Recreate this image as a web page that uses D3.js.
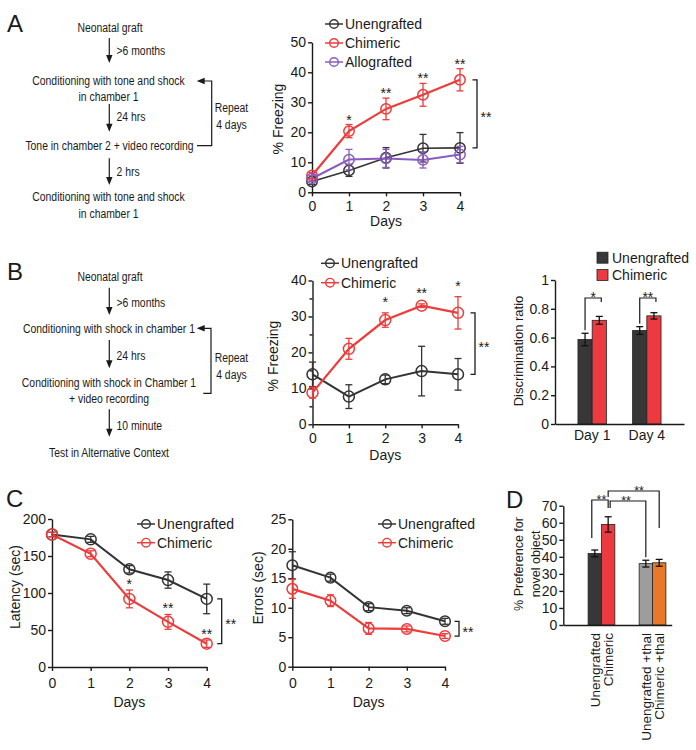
<!DOCTYPE html>
<html><head><meta charset="utf-8">
<script src="https://cdn.jsdelivr.net/npm/d3@7"></script>
<style>
body{margin:0;background:#fff}
svg{display:block}
</style></head><body>
<svg id="fig" width="696" height="750"></svg>
<script>
// ---------------- DATA ----------------
const days = [0, 1, 2, 3, 4];

// Panel A: % freezing (tone)
const aUnengrafted = [3.6, 7.3, 11.5, 14.7, 14.8];
const aUnengraftedErr = [1.0, 2.0, 3.4, 4.6, 5.1];
const aChimeric = [5.6, 20.4, 27.8, 32.5, 37.5];
const aChimericErr = [1.0, 2.2, 3.6, 3.8, 3.7];
const aAllografted = [4.6, 10.9, 11.3, 10.8, 12.6];
const aAllograftedErr = [1.0, 3.4, 3.0, 2.7, 2.7];
const aStars = ["", "*", "**", "**", "**"];
const aYTicks = [0, 10, 20, 30, 40, 50];

// Panel B: % freezing (context)
const bUnengrafted = [13.9, 7.7, 12.5, 14.8, 13.9];
const bUnengraftedErr = [3.4, 3.3, 1.2, 6.9, 4.4];
const bChimeric = [8.8, 21.0, 29.0, 33.0, 31.0];
const bChimericErr = [1.5, 2.9, 2.0, 0.5, 4.5];
const bStars = ["", "", "*", "**", "*"];
const bYTicks = [0, 10, 20, 30, 40];
const bYMinorTicks = [5, 15, 25, 35];

// Panel B: discrimination ratio
const discDays = ["Day 1", "Day 4"];
const discUnengrafted = [0.587, 0.649];
const discUnengraftedErr = [0.043, 0.027];
const discChimeric = [0.72, 0.751];
const discChimericErr = [0.027, 0.022];
const discStars = ["*", "**"];
const discYTicks = [0, 0.2, 0.4, 0.6, 0.8, 1];

// Panel C: latency
const latUnengrafted = [179, 172.5, 132, 117.5, 92];
const latUnengraftedErr = [3, 4, 5, 11, 20];
const latChimeric = [179, 153, 92, 61, 31.5];
const latChimericErr = [3, 4, 12, 10, 5];
const latStars = ["", "", "*", "**", "**"];
const latYTicks = [0, 50, 100, 150, 200];

// Panel C: errors
const errUnengrafted = [17.2, 15.1, 10.1, 9.5, 7.7];
const errUnengraftedErr = [2.3, 0.6, 0.6, 0.5, 0.5];
const errChimeric = [13.2, 11.2, 6.5, 6.4, 5.2];
const errChimericErr = [1.6, 1.0, 1.0, 0.5, 0.4];
const errStars = ["", "", "", "", ""];
const errYTicks = [0, 5, 10, 15, 20, 25];

// Panel D: novel object preference
const novelGroups = ["Unengrafted", "Chimeric", "Unengrafted +thal", "Chimeric +thal"];
const novelValues = [42, 59, 36, 36.5];
const novelErr = [2, 4.5, 2, 2];
const novelYTicks = [0, 10, 20, 30, 40, 50, 60, 70];

// ---------------- STYLE ----------------
const FONT = '"Liberation Sans", Arial, Helvetica, sans-serif';
const INK = "#1a1a1a";
const COL = {
  black: "#333333", red: "#ee3b3b", purple: "#8a5cc0",
  barBlack: "#373737", barRed: "#ec3a40", gray: "#9d9d9d", orange: "#e8782a"
};

const svg = d3.select("#fig");

function styleAxis(sel) {
  sel.attr("font-family", FONT).attr("font-size", 14);
  sel.selectAll("path.domain").attr("stroke", INK).attr("stroke-width", 1.4);
  sel.selectAll(".tick line").attr("stroke", INK).attr("stroke-width", 1.4);
  sel.selectAll(".tick text").attr("fill", INK);
}

function txt(g, x, y, s, opt = {}) {
  return g.append("text").attr("x", x).attr("y", y)
    .attr("font-family", FONT).attr("font-size", opt.size || 14)
    .attr("fill", INK).attr("text-anchor", opt.anchor || "middle")
    .attr("dy", opt.dy == null ? "0.35em" : opt.dy).text(s);
}

// condensed text (Helvetica Condensed look) via horizontal scaling
function ntxt(g, x, y, s, anchor) {
  return g.append("text").attr("transform", `translate(${x},${y}) scale(0.77,1)`)
    .attr("font-family", FONT).attr("font-size", 13.5).attr("fill", INK)
    .attr("text-anchor", anchor || "middle").attr("dy", "0.35em").text(s);
}

function ylabel(g, x, y, s, size) {
  g.append("text").attr("transform", `translate(${x},${y}) rotate(-90)`)
    .attr("font-family", FONT).attr("font-size", size || 14).attr("fill", INK)
    .attr("text-anchor", "middle").attr("dy", "0.35em").text(s);
}

// ---------------- LINE CHART ----------------
function lineChart(L, series, yTicks, stars) {
  const g = svg.append("g");
  const x = d3.scaleLinear().domain([0, 4]).range([L.x0, L.x1]);
  const y = d3.scaleLinear().domain([0, L.yMax]).range([L.y0, L.y1]);

  g.append("g").attr("transform", `translate(0,${L.y0})`)
    .call(d3.axisBottom(x).tickValues(days).tickFormat(d3.format("d"))
      .tickSize(4).tickPadding(L.xPad).tickSizeOuter(0)).call(styleAxis);
  g.append("g").attr("transform", `translate(${L.x0},0)`)
    .call(d3.axisLeft(y).tickValues(yTicks).tickSize(4).tickPadding(2).tickSizeOuter(0))
    .call(styleAxis);
  if (L.minor) {
    g.append("g").attr("transform", `translate(${L.x0},0)`)
      .call(d3.axisLeft(y).tickValues(L.minor).tickSize(3).tickFormat("").tickSizeOuter(0))
      .call(styleAxis).select("path.domain").remove();
  }

  const line = d3.line().x((d, i) => x(days[i])).y(d => y(d));
  series.forEach(s => {
    g.append("path").attr("d", line(s.values)).attr("fill", "none")
      .attr("stroke", s.color).attr("stroke-width", s.width);
  });
  series.forEach(s => {
    s.values.forEach((v, i) => {
      const cx = x(days[i]);
      const e = s.err[i];
      g.append("line").attr("x1", cx).attr("x2", cx).attr("y1", y(v - e)).attr("y2", y(v + e))
        .attr("stroke", s.color).attr("stroke-width", 1.3);
      [v - e, v + e].forEach(t => g.append("line").attr("x1", cx - 3.5).attr("x2", cx + 3.5)
        .attr("y1", y(t)).attr("y2", y(t)).attr("stroke", s.color).attr("stroke-width", 1.3));
      g.append("circle").attr("cx", cx).attr("cy", y(v)).attr("r", L.r)
        .attr("fill", "none").attr("stroke", s.color).attr("stroke-width", 1.5);
    });
  });

  // significance stars above chimeric
  const chim = series.find(s => s.name === "Chimeric");
  stars.forEach((st, i) => {
    if (!st) return;
    const cy = y(chim.values[i] + chim.err[i]) - L.starOff;
    txt(g, x(days[i]), cy + 8, st, { dy: 0, size: 14 });
  });

  // group bracket
  const un = series.find(s => s.name === "Unengrafted");
  const bx = x(4) + L.brDx;
  const yt = y(chim.values[4]), yb = y(un.values[4]);
  g.append("path").attr("d", `M${bx - 4.5},${yt}H${bx}V${yb}H${bx - 4.5}`)
    .attr("fill", "none").attr("stroke", INK).attr("stroke-width", 1.3);
  txt(g, bx + 3.5, (yt + yb) / 2 + 8, "**", { anchor: "start", dy: 0 });

  // axis titles
  txt(g, (L.x0 + L.x1) / 2, L.daysY, "Days");
  ylabel(g, L.ylx, L.yly, L.ylab);

  // legend
  series.forEach((s, k) => {
    const ly = L.legY + k * L.legDy;
    g.append("line").attr("x1", L.legX).attr("x2", L.legX + 18).attr("y1", ly).attr("y2", ly)
      .attr("stroke", s.color).attr("stroke-width", 1.5);
    g.append("circle").attr("cx", L.legX + 9).attr("cy", ly).attr("r", 4.3)
      .attr("fill", "none").attr("stroke", s.color).attr("stroke-width", 1.4);
    txt(g, L.legX + 20, ly, s.name, { anchor: "start", size: 14 });
  });
}

// Panel A chart
lineChart(
  { x0: 312, x1: 460, y0: 192.3, y1: 42.3, yMax: 50, r: 5.2, starOff: 8, brDx: 17, xPad: 5,
    daysY: 221, ylx: 278, yly: 119, ylab: "% Freezing", legX: 325, legY: 24, legDy: 19 },
  [
    { name: "Unengrafted", values: aUnengrafted, err: aUnengraftedErr, color: COL.black, width: 1.6 },
    { name: "Chimeric", values: aChimeric, err: aChimericErr, color: COL.red, width: 2.2 },
    { name: "Allografted", values: aAllografted, err: aAllograftedErr, color: COL.purple, width: 2 }
  ], aYTicks, aStars);

// Panel B chart
lineChart(
  { x0: 312.5, x1: 458, y0: 424.3, y1: 280.5, yMax: 40, r: 5.5, starOff: 14, brDx: 17, xPad: 5,
    minor: bYMinorTicks,
    daysY: 455, ylx: 273, yly: 356, ylab: "% Freezing", legX: 321, legY: 263.3, legDy: 19.4 },
  [
    { name: "Unengrafted", values: bUnengrafted, err: bUnengraftedErr, color: COL.black, width: 2 },
    { name: "Chimeric", values: bChimeric, err: bChimericErr, color: COL.red, width: 2.2 }
  ], bYTicks, bStars);

// Panel C latency
lineChart(
  { x0: 52, x1: 206.7, y0: 667, y1: 519, yMax: 200, r: 5.5, starOff: 9, brDx: 15, xPad: 7,
    daysY: 702, ylx: 15, yly: 587, ylab: "Latency (sec)", legX: 137, legY: 524, legDy: 18.7 },
  [
    { name: "Unengrafted", values: latUnengrafted, err: latUnengraftedErr, color: COL.black, width: 2 },
    { name: "Chimeric", values: latChimeric, err: latChimericErr, color: COL.red, width: 2.2 }
  ], latYTicks, latStars);

// Panel C errors
lineChart(
  { x0: 292.3, x1: 445, y0: 666.7, y1: 519.3, yMax: 25, r: 5.3, starOff: 9, brDx: 14, xPad: 7,
    daysY: 702, ylx: 258, yly: 588, ylab: "Errors (sec)", legX: 378, legY: 524, legDy: 18.7 },
  [
    { name: "Unengrafted", values: errUnengrafted, err: errUnengraftedErr, color: COL.black, width: 2 },
    { name: "Chimeric", values: errChimeric, err: errChimericErr, color: COL.red, width: 2.2 }
  ], errYTicks, errStars);

// ---------------- Discrimination ratio bars ----------------
(function () {
  const g = svg.append("g");
  const X0 = 555, X1 = 684, Y0 = 424, Y1 = 280;
  const y = d3.scaleLinear().domain([0, 1]).range([Y0, Y1]);
  const outer = d3.scaleBand().domain(discDays).range([X0, X1]).paddingInner(0.48).paddingOuter(0.42);
  const inner = d3.scaleBand().domain(["Unengrafted", "Chimeric"]).range([0, outer.bandwidth()]);
  const groups = [
    { name: "Unengrafted", v: discUnengrafted, e: discUnengraftedErr, c: COL.barBlack },
    { name: "Chimeric", v: discChimeric, e: discChimericErr, c: COL.barRed }
  ];
  groups.forEach(s => {
    discDays.forEach((d, i) => {
      const bx = outer(d) + inner(s.name);
      g.append("rect").attr("x", bx).attr("y", y(s.v[i])).attr("width", inner.bandwidth())
        .attr("height", Y0 - y(s.v[i])).attr("fill", s.c).attr("stroke", "#222").attr("stroke-width", 0.8);
      const cx = bx + inner.bandwidth() / 2;
      g.append("line").attr("x1", cx).attr("x2", cx).attr("y1", y(s.v[i] - s.e[i])).attr("y2", y(s.v[i] + s.e[i]))
        .attr("stroke", "#111").attr("stroke-width", 1.3);
      [s.v[i] - s.e[i], s.v[i] + s.e[i]].forEach(t => g.append("line").attr("x1", cx - 3.5).attr("x2", cx + 3.5)
        .attr("y1", y(t)).attr("y2", y(t)).attr("stroke", "#111").attr("stroke-width", 1.3));
    });
  });
  g.append("g").attr("transform", `translate(0,${Y0})`)
    .call(d3.axisBottom(outer).tickSize(0).tickPadding(6).tickSizeOuter(0)).call(styleAxis);
  g.append("g").attr("transform", `translate(${X0},0)`)
    .call(d3.axisLeft(y).tickValues(discYTicks).tickSize(4).tickPadding(2).tickSizeOuter(0)
      .tickFormat(d => d === 0 || d === 1 ? d3.format("d")(d) : d3.format(".1f")(d)))
    .call(styleAxis);
  // brackets
  const yBr = y(0.875);
  discDays.forEach((d, i) => {
    const lx = outer(d) + inner("Unengrafted") + inner.bandwidth() / 2;
    const rx = outer(d) + inner("Chimeric") + inner.bandwidth() / 2 + 2;
    const lb = y(discUnengrafted[i] + discUnengraftedErr[i]) - 3;
    g.append("path").attr("d", `M${lx},${lb}V${yBr}H${rx}V${yBr + 4}`)
      .attr("fill", "none").attr("stroke", INK).attr("stroke-width", 1.2);
    txt(g, (lx + rx) / 2, yBr - 4 + 8, discStars[i], { dy: 0 });
  });
  ylabel(g, 518, 351, "Discrimination ratio", 13);
  // legend
  groups.forEach((s, k) => {
    const ly = 257.7 + k * 17.3;
    g.append("rect").attr("x", 597).attr("y", ly - 5.5).attr("width", 11).attr("height", 11)
      .attr("fill", s.c).attr("stroke", "#222").attr("stroke-width", 0.8);
    txt(g, 612, ly, s.name, { anchor: "start" });
  });
})();

// ---------------- Novel object preference ----------------
(function () {
  const g = svg.append("g");
  const X0 = 563.3, X1 = 671.7, Y0 = 625, Y1 = 505.7;
  const y = d3.scaleLinear().domain([0, 70]).range([Y0, Y1]);
  const pairs = ["untreated", "+thal"];
  const pairOf = n => n.includes("+thal") ? "+thal" : "untreated";
  const outer = d3.scaleBand().domain(pairs).range([X0, X1]).paddingInner(0.476).paddingOuter(0.30).align(0.81);
  const inner = d3.scaleBand().domain([0, 1]).range([0, outer.bandwidth()]);
  const colors = [COL.barBlack, COL.barRed, COL.gray, COL.orange];
  const cxs = [];
  novelGroups.forEach((n, i) => {
    const bx = outer(pairOf(n)) + inner(i % 2);
    const v = novelValues[i], e = novelErr[i];
    g.append("rect").attr("x", bx).attr("y", y(v)).attr("width", inner.bandwidth())
      .attr("height", Y0 - y(v)).attr("fill", colors[i]).attr("stroke", "#222").attr("stroke-width", 0.8);
    const cx = bx + inner.bandwidth() / 2;
    cxs.push(cx);
    g.append("line").attr("x1", cx).attr("x2", cx).attr("y1", y(v - e)).attr("y2", y(v + e))
      .attr("stroke", "#111").attr("stroke-width", 1.3);
    [v - e, v + e].forEach(t => g.append("line").attr("x1", cx - 3.5).attr("x2", cx + 3.5)
      .attr("y1", y(t)).attr("y2", y(t)).attr("stroke", "#111").attr("stroke-width", 1.3));
    g.append("text").attr("transform", `translate(${cx},633) rotate(-90)`)
      .attr("font-family", FONT).attr("font-size", 13.5).attr("fill", INK)
      .attr("text-anchor", "end").attr("dy", "0.35em").text(n);
  });
  g.append("g").attr("transform", `translate(0,${Y0})`)
    .call(d3.axisBottom(outer).tickValues([]).tickSizeOuter(0)).call(styleAxis);
  g.append("g").attr("transform", `translate(${X0},0)`)
    .call(d3.axisLeft(y).tickValues(novelYTicks).tickSize(4).tickPadding(2).tickSizeOuter(0))
    .call(styleAxis);
  const top = i => y(novelValues[i] + novelErr[i]);
  const br = (path, sx, sy) => {
    g.append("path").attr("d", path).attr("fill", "none").attr("stroke", INK).attr("stroke-width", 1.2);
    txt(g, sx, sy + 7, "**", { dy: 0, size: 12.5 });
  };
  // Unengrafted vs Chimeric
  br(`M${cxs[0] - 3},${top(0) - 12}V500H${cxs[1]}V508`, (cxs[0] + cxs[1]) / 2, 497);
  // Chimeric vs Unengrafted +thal
  br(`M${cxs[1] + 2},508V501H${cxs[2]}V${top(2) - 3}`, 626, 498);
  // Chimeric vs Chimeric +thal
  br(`M${cxs[1]},497V491H${cxs[3]}V528`, 639, 487.5);
  g.append("text").attr("transform", "translate(519,564) rotate(-90)")
    .attr("font-family", FONT).attr("font-size", 12.5).attr("fill", INK)
    .attr("text-anchor", "middle").attr("dy", "0.35em").text("% Preference for");
  g.append("text").attr("transform", "translate(535.5,564) rotate(-90)")
    .attr("font-family", FONT).attr("font-size", 12.5).attr("fill", INK)
    .attr("text-anchor", "middle").attr("dy", "0.35em").text("novel object");
})();

// ---------------- Flowcharts ----------------
function flow(items, arrows, bracket, repeatY) {
  const g = svg.append("g");
  items.forEach(t => ntxt(g, t[0], t[1], t[2], t[3]));
  arrows.forEach(a => {
    const [x, y1, y2] = a;
    g.append("line").attr("x1", x).attr("x2", x).attr("y1", y1).attr("y2", y2 - 6)
      .attr("stroke", INK).attr("stroke-width", 1.2);
    g.append("path").attr("d", `M${x - 3.2},${y2 - 8}L${x + 3.2},${y2 - 8}L${x},${y2}Z`).attr("fill", INK);
  });
  const [tipX, topY, rx, botY, botX] = bracket;
  g.append("path").attr("d", `M${botX},${botY}H${rx}V${topY}H${tipX + 6}`)
    .attr("fill", "none").attr("stroke", INK).attr("stroke-width", 1.2);
  g.append("path").attr("d", `M${tipX + 8},${topY - 3.2}L${tipX + 8},${topY + 3.2}L${tipX},${topY}Z`).attr("fill", INK);
  ntxt(g, 231.5, repeatY[0], "Repeat");
  ntxt(g, 231.5, repeatY[1], "4 days");
}

flow([
  [110, 27.3, "Neonatal graft"],
  [116.5, 50.7, ">6 months", "start"],
  [108.5, 80, "Conditioning with tone and shock"],
  [108.5, 96.7, "in chamber 1"],
  [116.5, 116.7, "24 hrs", "start"],
  [109.5, 145.7, "Tone in chamber 2 + video recording"],
  [116.5, 171.7, "2 hrs", "start"],
  [108.5, 196.7, "Conditioning with tone and shock"],
  [108.5, 213, "in chamber 1"]
], [[109.3, 38, 63], [109.3, 104, 131.7], [109.3, 158.3, 185]],
  [196.7, 81, 211.7, 145.7, 197], [107.5, 124.5]);

flow([
  [110, 276, "Neonatal graft"],
  [116.5, 302.3, ">6 months", "start"],
  [109, 328.3, "Conditioning with shock in chamber 1"],
  [116.5, 355.7, "24 hrs", "start"],
  [109, 382.7, "Conditioning with shock in Chamber 1"],
  [109, 398.3, "+ video recording"],
  [116.5, 425, "10 minute", "start"],
  [109, 452.3, "Test in Alternative Context"]
], [[109.3, 287.7, 315], [109.3, 340, 368.3], [109.3, 409.3, 436.7]],
  [196.7, 328.3, 211, 393.3, 203.3], [357, 374]);

// Panel letters
[["A", 7, 32], ["B", 7, 280], ["C", 6, 507], ["D", 506, 508]].forEach(p =>
  txt(svg, p[1], p[2], p[0], { anchor: "start", size: 24, dy: 0 }));
</script>
</body></html>
